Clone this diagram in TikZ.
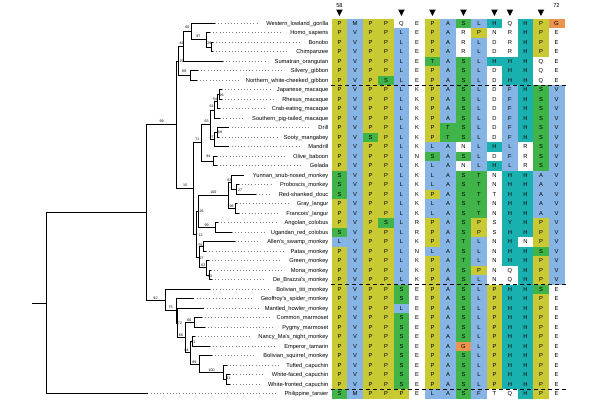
\documentclass[tikz,border=0pt]{standalone}
\usepackage{fontspec}
\setmainfont{Liberation Sans}
\usetikzlibrary{calc}

% residue colours
\definecolor{aaP}{RGB}{201,201,52}
\definecolor{hydro}{RGB}{134,180,228}
\definecolor{aaS}{RGB}{64,180,72}
\definecolor{aaH}{RGB}{26,176,176}
\definecolor{aaG}{RGB}{235,148,80}
\colorlet{aaV}{hydro}\colorlet{aaL}{hydro}\colorlet{aaA}{hydro}
\colorlet{aaM}{hydro}\colorlet{aaF}{hydro}
\colorlet{aaT}{aaS}\colorlet{aaY}{aaH}
\colorlet{aaQ}{white}\colorlet{aaE}{white}\colorlet{aaK}{white}
\colorlet{aaN}{white}\colorlet{aaR}{white}\colorlet{aaD}{white}
\colorlet{aas}{white}\colorlet{aat}{white}

\newcommand\clade[4]{\path let \p1=(#3), \p2=(#4) in coordinate (#1) at (#2pt,{(\y1+\y2)/2});}

\begin{document}
\begin{tikzpicture}[x=1pt,y=-1pt,
    branch/.style={line width=0.9pt,line cap=rect},
    leader/.style={gray,line width=0.7pt,dash pattern=on 0.8pt off 2.4pt},
    taxon/.style={anchor=base east,inner sep=0pt,font=\fontsize{5.7}{6}\selectfont},
    res/.style={anchor=base,inner sep=0pt,font=\fontsize{5.8}{6}\selectfont},
    hdr/.style={inner sep=0pt,font=\fontsize{5.7}{6}\selectfont},
    bsv/.style={inner sep=0pt,font=\fontsize{3.6}{4}\selectfont},
    sep/.style={line width=0.9pt,dash pattern=on 4pt off 3pt}]
  \fill[white] (0,0) rectangle (600,400);
  \useasboundingbox (0,0) rectangle (600,400);

  % alignment, columns 58--72
  \foreach \seq [count=\r] in {
    {P,M,P,P,Q,E,P,A,S,L,H,Q,H,P,G},
    {P,V,P,P,L,E,P,A,R,P,N,R,H,P,E},
    {P,V,P,P,L,E,P,A,R,L,D,R,H,P,E},
    {P,V,P,P,L,E,P,A,R,L,D,R,H,P,E},
    {P,V,P,P,L,E,T,A,S,L,H,H,H,Q,E},
    {P,V,P,P,L,E,P,A,S,L,D,H,H,Q,E},
    {P,V,P,S,L,E,P,A,S,L,D,H,H,Q,E},
    {P,V,P,P,L,K,P,A,S,L,D,F,H,S,V},
    {P,V,P,P,L,K,P,A,S,L,D,F,H,S,V},
    {P,V,P,P,L,K,P,A,S,L,D,F,H,S,V},
    {P,V,P,P,L,K,P,A,S,L,D,F,H,S,V},
    {P,V,P,P,L,K,P,T,S,L,D,F,H,S,V},
    {P,V,S,P,L,K,P,T,S,L,D,F,H,S,V},
    {P,V,P,P,L,K,L,A,N,L,H,L,R,S,V},
    {P,V,P,P,L,N,S,A,S,L,D,F,R,S,V},
    {P,V,P,P,L,K,L,A,N,L,H,L,R,S,V},
    {S,V,P,P,L,K,L,A,S,T,N,H,H,A,V},
    {S,V,P,P,L,K,L,A,S,T,N,H,H,A,V},
    {S,V,P,P,L,K,P,A,S,T,t,H,H,A,V},
    {P,V,P,P,L,K,L,A,S,T,N,H,H,A,V},
    {P,V,P,P,L,K,L,A,S,T,N,H,H,A,V},
    {P,V,P,S,L,R,P,A,S,P,s,Y,H,P,V},
    {S,V,P,P,L,R,P,A,S,P,s,H,H,P,V},
    {L,V,P,P,L,K,P,A,T,L,N,H,N,P,V},
    {P,V,P,P,L,N,L,A,S,L,N,H,H,S,V},
    {P,V,P,P,L,K,P,A,T,L,N,H,H,P,V},
    {P,V,P,P,L,K,P,A,S,P,N,Q,H,P,V},
    {P,V,P,P,L,K,P,A,S,L,N,Q,H,P,V},
    {P,V,P,P,S,E,P,A,S,L,P,H,H,S,E},
    {P,V,P,P,S,E,P,A,S,L,P,H,H,P,E},
    {P,V,P,P,L,E,P,A,S,L,P,H,H,P,E},
    {P,V,P,P,S,E,P,A,S,L,P,H,H,P,E},
    {P,V,P,P,S,E,P,A,S,L,P,H,H,P,E},
    {P,V,P,P,S,E,P,A,S,L,P,H,H,P,E},
    {P,V,P,P,S,E,P,A,G,L,P,H,H,P,E},
    {P,V,P,P,S,E,P,A,S,L,P,H,H,P,E},
    {P,V,P,P,S,E,P,A,S,L,P,H,H,P,E},
    {P,V,P,P,S,E,P,A,S,L,P,H,H,P,E},
    {P,V,P,P,S,E,P,A,S,L,P,H,H,P,E},
    {S,M,P,P,P,E,L,A,S,F,t,Q,H,P,E}} {
    \foreach \res [count=\c] in \seq {
      \fill[aa\res] ({316.2+15.5*\c},{9.05+9.5*\r}) rectangle +(15.8,9.8);
      \node[res] (a\r-\c) at ({323.95+15.5*\c},{15.9+9.5*\r}) {\MakeUppercase{\res}};
    }
  }
  \foreach \k in {7,28,39}
    \draw[sep] (331,{18.55+9.5*\k}) -- (567,{18.55+9.5*\k});

  \node[hdr] (h58) at (339.45,5.5) {58};
  \node[hdr] (h72) at (556.45,5.5) {72};
  \foreach \c in {1,5,7,9,11,12,14}
    \fill ({320.65+15.5*\c},9.5) -- ++(6.6,0) -- ({323.95+15.5*\c},16) -- cycle;

  % taxa
  \foreach \name/\tip [count=\i] in {
    Western\_lowland\_gorilla/215, Homo\_sapiens/210, Bonobo/212.5,
    Chimpanzee/212.5, Sumatran\_orangutan/223, Silvery\_gibbon/198,
    Northern\_white-cheeked\_gibbon/196.7, Japanese\_macaque/221.5,
    Rhesus\_macaque/221.5, Crab-eating\_macaque/219.5,
    Southern\_pig-tailed\_macaque/220, Drill/228.3, Sooty\_mangabey/219,
    Mandrill/228.3, Olive\_baboon/216.7, Gelada/216.7,
    Yunnan\_snub-nosed\_monkey/243.3, Proboscis\_monkey/238.5,
    Red-shanked\_douc/256, Gray\_langur/236.5,
    Francois\textquotesingle\_langur/239, Angolan\_colobus/218,
    Ugandan\_red\_colobus/231.7, Allen\textquotesingle s\_swamp\_monkey/235,
    Patas\_monkey/206, Green\_monkey/208.6, Mona\_monkey/211,
    De\_Brazza\textquotesingle s\_monkey/212, Bolivian\_titi\_monkey/210,
    Geoffroy\textquotesingle s\_spider\_monkey/193.3,
    Mantled\_howler\_monkey/203.3, Common\_marmoset/201.7,
    Pygmy\_marmoset/205, Nancy\_Ma\textquotesingle s\_night\_monkey/195,
    Emperor\_tamarin/210, Bolivian\_squirrel\_monkey/211.7,
    Tufted\_capuchin/226.7, White-faced\_capuchin/230,
    White-fronted\_capuchin/230, Philippine\_tarsier/147.3} {
    \node[taxon] (t\i) at (328.5,{15.8+9.5*\i}) {\name};
    \coordinate (l\i) at (\tip,{13.8+9.5*\i});
    \draw[leader,shorten >=7pt] (l\i) -- (l\i -| t\i.west);
  }

  % tree
  \clade{pc}{211}{l3}{l4}
  \clade{hpc}{206.7}{l2}{pc}
  \clade{afr}{191}{l1}{hpc}
  \clade{great}{183.3}{afr}{l5}
  \clade{gib}{190.7}{l6}{l7}
  \clade{hom}{178.5}{great}{gib}
  \clade{jr}{219.5}{l8}{l9}
  \clade{jrc}{217.5}{jr}{l10}
  \clade{mac}{214.5}{jrc}{l11}
  \clade{ds}{217}{l12}{l13}
  \clade{dsm}{214.5}{ds}{l14}
  \clade{ptop}{210}{mac}{dsm}
  \clade{og}{213.3}{l15}{l16}
  \clade{pap}{201.7}{ptop}{og}
  \clade{prs}{236.7}{l18}{l19}
  \clade{yprs}{231.5}{l17}{prs}
  \clade{gf}{235}{l20}{l21}
  \clade{asian}{228.3}{yprs}{gf}
  \clade{au}{215}{l22}{l23}
  \clade{col}{198.3}{asian}{au}
  \clade{ap}{203.3}{l24}{l25}
  \clade{md}{209}{l27}{l28}
  \clade{gmd}{206.7}{l26}{md}
  \clade{cerc}{199.3}{ap}{gmd}
  \clade{cc}{196}{col}{cerc}
  \clade{cer}{193.3}{pap}{cc}
  \clade{cat}{176.7}{hom}{cer}
  \clade{wf}{226}{l38}{l39}
  \clade{cap}{223.3}{l37}{wf}
  \clade{sqc}{199}{l36}{cap}
  \clade{ne}{192.5}{l34}{l35}
  \clade{cal}{190}{ne}{sqc}
  \clade{mar}{194.3}{l32}{l33}
  \clade{cmb}{185}{mar}{cal}
  \clade{how}{177.5}{l31}{cmb}
  \clade{spi}{176.7}{l30}{how}
  \clade{pla}{165}{l29}{spi}
  \clade{anth}{146.6}{cat}{pla}
  \clade{root}{46.7}{anth}{l40}
  \coordinate (stem) at ($(root)+(-14.2,0)$);

  \foreach \p/\c in {hpc/pc, afr/hpc, great/afr, hom/great, hom/gib,
      cat/hom, jrc/jr, mac/jrc, ptop/mac, dsm/ds, ptop/dsm, pap/ptop,
      pap/og, cer/pap, yprs/prs, asian/yprs, asian/gf, col/asian, col/au,
      cc/col, cerc/ap, gmd/md, cerc/gmd, cc/cerc, cer/cc, cat/cer,
      anth/cat, cap/wf, sqc/cap, cal/sqc, cal/ne, cmb/cal, cmb/mar,
      how/cmb, spi/how, pla/spi, anth/pla}
    \draw[branch] (\p) |- (\c);
  \foreach \p/\i in {afr/1, hpc/2, pc/3, pc/4, great/5, gib/6, gib/7, jr/8,
      jr/9, jrc/10, mac/11, ds/12, ds/13, dsm/14, og/15, og/16, yprs/17,
      prs/18, prs/19, gf/20, gf/21, au/22, au/23, ap/24, ap/25, gmd/26, md/27,
      md/28, pla/29, spi/30, how/31, mar/32, mar/33, ne/34, ne/35, sqc/36,
      cap/37, wf/38, wf/39, root/40}
    \draw[branch] (\p) |- (l\i);
  \draw[branch] (stem) -- (root) |- (anth);

  % bootstrap values
  \foreach \x/\y/\v [count=\j] in {161.7/121.7/99, 181.7/61.7/29,
      181.7/43.3/82, 187.3/27.3/60, 198.3/36/97, 209.3/43.3/29,
      184/71.7/99, 185/185/15, 197.3/139.3/71, 206.7/121.7/63,
      211.7/106.7/61, 215/99.3/54, 221.7/95/26, 220/132.7/69,
      211.7/137.7/27, 208.3/156.7/94, 213.3/192.7/100, 229.3/180.7/62,
      240/190/27, 231.7/206.7/96, 201.7/211.7/26, 206.7/225/99,
      200.7/235/12, 200.7/245/55, 201.7/258.3/27, 203.3/265.7/62,
      210/276.7/63, 155.5/298.3/92, 170.7/307.7/75, 180/323.3/72,
      189.3/320.7/60, 181/335/66, 193.3/342.7/31, 186.7/350.7/64,
      194.3/362.7/89, 211.7/370/100, 228.3/378.3/91}
    \node[bsv] (bs\j) at (\x,\y) {\v};
\end{tikzpicture}
\end{document}
